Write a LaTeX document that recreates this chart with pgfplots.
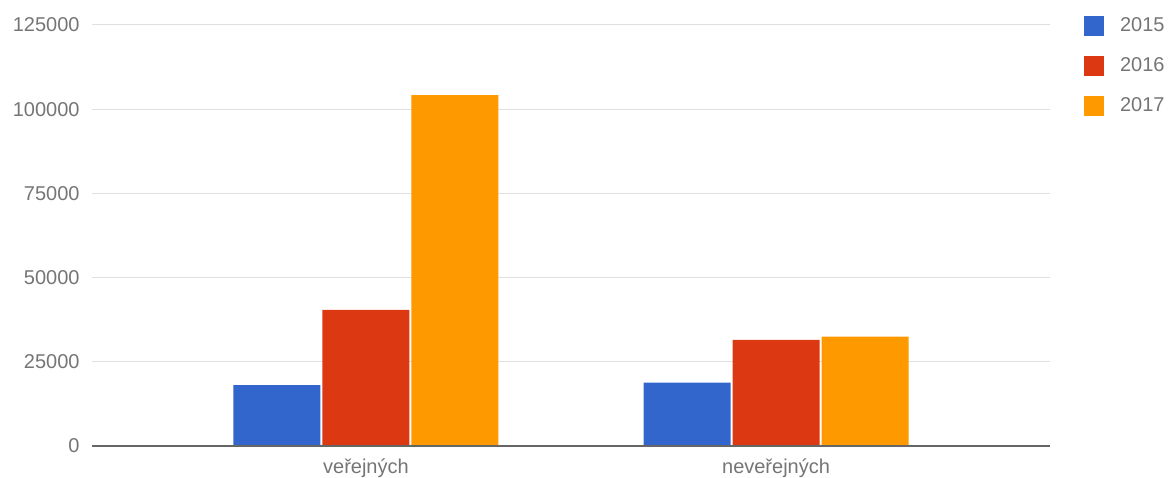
\documentclass[border=0pt]{standalone}
\usepackage{pgfplots}
\pgfplotsset{compat=1.18}
\usepackage{fontspec}
\setmainfont{Liberation Sans}

\definecolor{c2015}{HTML}{3366CC}
\definecolor{c2016}{HTML}{DC3912}
\definecolor{c2017}{HTML}{FF9900}
\definecolor{labelgray}{HTML}{757575}
\definecolor{gridgray}{HTML}{E0E0E0}
\definecolor{basegray}{HTML}{666666}

\begin{document}
\begin{tikzpicture}
\begin{axis}[
    scale only axis,
    width=479pt, height=210.5pt,
    ybar=1pt, bar width=43.5pt,
    xmin=-0.668, xmax=1.668,
    ymin=0, ymax=125000,
    scaled y ticks=false,
    xtick={0,1},
    xticklabels={veřejných, neveřejných},
    ytick={0,25000,50000,75000,100000,125000},
    yticklabels={0,25000,50000,75000,100000,125000},
    major tick length=0pt,
    axis line style={draw=none},
    ymajorgrids,
    grid style={draw=gridgray, line width=0.5pt},
    tick label style={font=\fontsize{10}{12}\selectfont, text=labelgray, inner sep=0pt},
    yticklabel style={anchor=east, xshift=-6pt},
    xticklabel style={anchor=base, yshift=-13.5pt},
    legend image code/.code={\fill[#1, draw=none] (0pt,-4.9pt) rectangle (10pt,5.1pt);},
    legend style={draw=none, fill=none, inner sep=0pt, outer sep=0pt,
        at={(rel axis cs:1,1)}, anchor=north west,
        xshift=17pt, yshift=4.5pt, row sep=9.9pt, column sep=8pt,
        nodes={inner sep=0pt, text=labelgray, font=\fontsize{10}{12}\selectfont}},
    legend cell align=left,
]
% 2015
\addplot[fill=c2015, draw=none] coordinates {(0,18100) (1,18800)};
\addlegendentry{2015}
% 2016
\addplot[fill=c2016, draw=none] coordinates {(0,40400) (1,31500)};
\addlegendentry{2016}
% 2017
\addplot[fill=c2017, draw=none] coordinates {(0,104200) (1,32450)};
\addlegendentry{2017}

% baseline at zero
\draw[basegray, line width=0.75pt] (rel axis cs:0,0) -- (rel axis cs:1,0);
\end{axis}
\pgfresetboundingbox
\path[use as bounding box] ([xshift=-46pt,yshift=-15.5pt]current axis.south west)
    rectangle ([xshift=60pt,yshift=12.5pt]current axis.north east);
\end{tikzpicture}
\end{document}
